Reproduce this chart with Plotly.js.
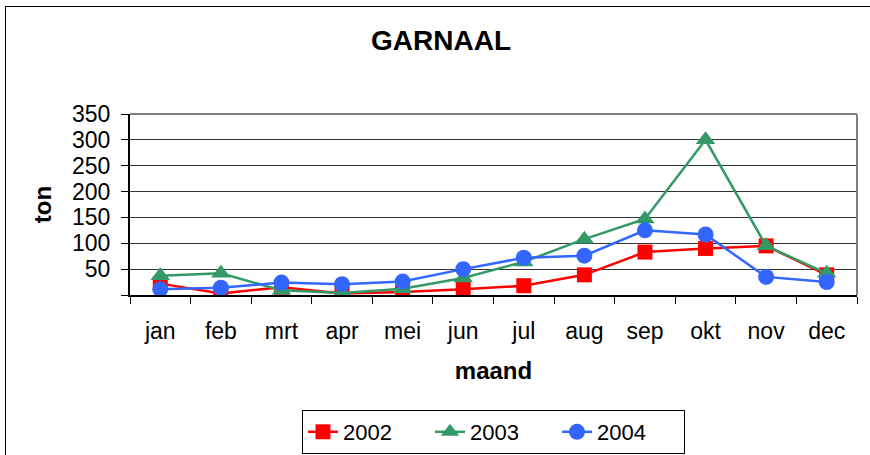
<!DOCTYPE html>
<html><head><meta charset="utf-8">
<script src="https://cdn.plot.ly/plotly-3.0.1.min.js"></script>
<style>
html,body{margin:0;padding:0;background:#fff;}
#wrap{position:relative;width:870px;height:455px;overflow:hidden;}
#chart{position:absolute;left:0;top:0;width:870px;height:455px;}
#frame{position:absolute;left:5px;top:6px;width:1000px;height:600px;border:1px solid #000;pointer-events:none;}
</style>
</head><body>
<div id="wrap"><div id="chart"></div><div id="frame"></div></div>
<script>
const months = ['jan','feb','mrt','apr','mei','jun','jul','aug','sep','okt','nov','dec'];
const y2002 = [22, 3, 15, 3, 6, 11, 18, 39, 83, 90, 95, 39];
const y2003 = [37, 42, 9, 4, 12, 33, 64, 108, 147, 300, 95, 42];
const y2004 = [11, 14, 24, 21, 26, 50, 72, 76, 125, 117, 35, 25];
const yTicks = [0, 50, 100, 150, 200, 250, 300, 350];
const yTickText = ['', '50', '100', '150', '200', '250', '300', '350'];

const font = 'Liberation Sans, Arial, sans-serif';
const traces = [
  {x: months, y: y2002, name: '2002', mode: 'lines+markers', type: 'scatter',
   line: {color: '#FF0000', width: 2.5}, marker: {symbol: 'square', size: 15, color: '#FF0000'}},
  {x: months, y: y2003, name: '2003', mode: 'lines+markers', type: 'scatter',
   line: {color: '#339966', width: 2.5}, marker: {symbol: 'triangle-up', size: 17, color: '#339966'}},
  {x: months, y: y2004, name: '2004', mode: 'lines+markers', type: 'scatter',
   line: {color: '#3366FF', width: 2.5}, marker: {symbol: 'circle', size: 16, color: '#3366FF'}}
];
const layout = {
  width: 870, height: 455,
  margin: {l: 130, r: 13, t: 114, b: 160},
  paper_bgcolor: '#fff', plot_bgcolor: '#fff',
  font: {family: font, size: 23, color: '#000'},
  title: {text: '<b>GARNAAL</b>', x: 0.507, xanchor: 'center', y: 1 - 40/455, yanchor: 'middle', yref: 'container',
          font: {family: font, size: 28, color: '#000'}},
  xaxis: {type: 'category', categoryorder: 'array', categoryarray: months, range: [-0.5, 11.5], autorange: false,
          tickson: 'boundaries', ticks: 'outside', ticklen: 7, tickcolor: '#000', tickwidth: 1,
          showline: true, linecolor: '#000', linewidth: 2, showgrid: false, zeroline: false,
          ticklabelstandoff: 14, tickfont: {size: 23},
          title: {text: '<b>maand</b>', standoff: 20, font: {size: 24}}},
  yaxis: {range: [0, 350], autorange: false, tickmode: 'array', tickvals: yTicks, ticktext: yTickText,
          ticks: 'outside', ticklen: 7, tickcolor: '#000', tickwidth: 1,
          showline: true, linecolor: '#000', linewidth: 2, showgrid: true, gridcolor: '#333', gridwidth: 1,
          zeroline: false, ticklabelstandoff: 6, tickfont: {size: 23},
          title: {text: '<b>ton</b>', standoff: 14, font: {size: 24}}},
  shapes: [
    {type: 'line', xref: 'paper', yref: 'paper', x0: 0, x1: 1, y0: 1, y1: 1, line: {color: '#808080', width: 2}},
    {type: 'line', xref: 'paper', yref: 'paper', x0: 1, x1: 1, y0: 0, y1: 1, line: {color: '#808080', width: 2}}
  ],
  showlegend: true,
  legend: {orientation: 'h', x: 0.5, xanchor: 'center', xref: 'paper', y: 1 - 432/455, yanchor: 'middle', yref: 'container',
           bordercolor: '#000', borderwidth: 1, font: {size: 22}, entrywidth: 82, entrywidthmode: 'pixels', tracegroupgap: 0}
};
Plotly.newPlot('chart', traces, layout, {displayModeBar: false, staticPlot: true});
</script>
</body></html>
